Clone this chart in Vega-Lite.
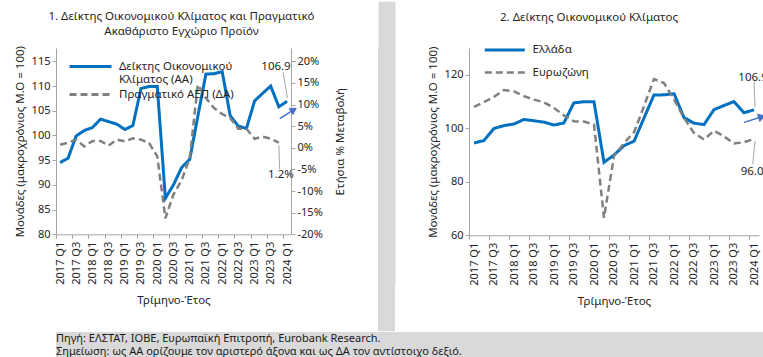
{
  "$schema": "https://vega.github.io/schema/vega-lite/v6.json",
  "padding": 0,
  "background": "white",
  "config": {
    "font": "Noto Sans",
    "view": {"stroke": null},
    "concat": {"spacing": 0},
    "axis": {"labelFontSize": 11, "labelColor": "#262626", "titleFontSize": 11.5, "titleFontWeight": "normal", "titleColor": "#262626", "domainColor": "#a6a6a6", "tickColor": "#a6a6a6", "grid": false, "tickSize": 4, "labelOverlap": false},
    "legend": {"labelFontSize": 11.5, "labelColor": "#262626"},
    "title": {"fontWeight": "normal", "color": "#262626"}
  },
  "datasets": {
    "esi": [
      {"quarter": "2017/01/01", "series": "Ελλάδα", "value": 94.5},
      {"quarter": "2017/04/01", "series": "Ελλάδα", "value": 95.4},
      {"quarter": "2017/07/01", "series": "Ελλάδα", "value": 99.9},
      {"quarter": "2017/10/01", "series": "Ελλάδα", "value": 101.0},
      {"quarter": "2018/01/01", "series": "Ελλάδα", "value": 101.6},
      {"quarter": "2018/04/01", "series": "Ελλάδα", "value": 103.3},
      {"quarter": "2018/07/01", "series": "Ελλάδα", "value": 102.8},
      {"quarter": "2018/10/01", "series": "Ελλάδα", "value": 102.3},
      {"quarter": "2019/01/01", "series": "Ελλάδα", "value": 101.2},
      {"quarter": "2019/04/01", "series": "Ελλάδα", "value": 102.0},
      {"quarter": "2019/07/01", "series": "Ελλάδα", "value": 109.5},
      {"quarter": "2019/10/01", "series": "Ελλάδα", "value": 109.9},
      {"quarter": "2020/01/01", "series": "Ελλάδα", "value": 109.9},
      {"quarter": "2020/04/01", "series": "Ελλάδα", "value": 87.3},
      {"quarter": "2020/07/01", "series": "Ελλάδα", "value": 90.0},
      {"quarter": "2020/10/01", "series": "Ελλάδα", "value": 93.5},
      {"quarter": "2021/01/01", "series": "Ελλάδα", "value": 95.2},
      {"quarter": "2021/04/01", "series": "Ελλάδα", "value": 103.8},
      {"quarter": "2021/07/01", "series": "Ελλάδα", "value": 112.4},
      {"quarter": "2021/10/01", "series": "Ελλάδα", "value": 112.5},
      {"quarter": "2022/01/01", "series": "Ελλάδα", "value": 112.9},
      {"quarter": "2022/04/01", "series": "Ελλάδα", "value": 104.0},
      {"quarter": "2022/07/01", "series": "Ελλάδα", "value": 101.9},
      {"quarter": "2022/10/01", "series": "Ελλάδα", "value": 101.4},
      {"quarter": "2023/01/01", "series": "Ελλάδα", "value": 107.0},
      {"quarter": "2023/04/01", "series": "Ελλάδα", "value": 108.5},
      {"quarter": "2023/07/01", "series": "Ελλάδα", "value": 110.0},
      {"quarter": "2023/10/01", "series": "Ελλάδα", "value": 105.8},
      {"quarter": "2024/01/01", "series": "Ελλάδα", "value": 106.9},
      {"quarter": "2017/01/01", "series": "Ευρωζώνη", "value": 108.0},
      {"quarter": "2017/04/01", "series": "Ευρωζώνη", "value": 109.8},
      {"quarter": "2017/07/01", "series": "Ευρωζώνη", "value": 111.7},
      {"quarter": "2017/10/01", "series": "Ευρωζώνη", "value": 114.3},
      {"quarter": "2018/01/01", "series": "Ευρωζώνη", "value": 113.8},
      {"quarter": "2018/04/01", "series": "Ευρωζώνη", "value": 112.0},
      {"quarter": "2018/07/01", "series": "Ευρωζώνη", "value": 110.7},
      {"quarter": "2018/10/01", "series": "Ευρωζώνη", "value": 109.7},
      {"quarter": "2019/01/01", "series": "Ευρωζώνη", "value": 107.6},
      {"quarter": "2019/04/01", "series": "Ευρωζώνη", "value": 104.8},
      {"quarter": "2019/07/01", "series": "Ευρωζώνη", "value": 102.6},
      {"quarter": "2019/10/01", "series": "Ευρωζώνη", "value": 102.5},
      {"quarter": "2020/01/01", "series": "Ευρωζώνη", "value": 101.4},
      {"quarter": "2020/04/01", "series": "Ευρωζώνη", "value": 66.5},
      {"quarter": "2020/07/01", "series": "Ευρωζώνη", "value": 89.5},
      {"quarter": "2020/10/01", "series": "Ευρωζώνη", "value": 94.5},
      {"quarter": "2021/01/01", "series": "Ευρωζώνη", "value": 98.6},
      {"quarter": "2021/04/01", "series": "Ευρωζώνη", "value": 108.2},
      {"quarter": "2021/07/01", "series": "Ευρωζώνη", "value": 118.4},
      {"quarter": "2021/10/01", "series": "Ευρωζώνη", "value": 116.9},
      {"quarter": "2022/01/01", "series": "Ευρωζώνη", "value": 110.7},
      {"quarter": "2022/04/01", "series": "Ευρωζώνη", "value": 103.9},
      {"quarter": "2022/07/01", "series": "Ευρωζώνη", "value": 98.3},
      {"quarter": "2022/10/01", "series": "Ευρωζώνη", "value": 95.8},
      {"quarter": "2023/01/01", "series": "Ευρωζώνη", "value": 99.1},
      {"quarter": "2023/04/01", "series": "Ευρωζώνη", "value": 97.0},
      {"quarter": "2023/07/01", "series": "Ευρωζώνη", "value": 94.3},
      {"quarter": "2023/10/01", "series": "Ευρωζώνη", "value": 94.8},
      {"quarter": "2024/01/01", "series": "Ευρωζώνη", "value": 96.0}
    ],
    "gdp": [
      {"quarter": "2017/01/01", "series": "Πραγματικό ΑΕΠ (ΔΑ)", "value": 0.7},
      {"quarter": "2017/04/01", "series": "Πραγματικό ΑΕΠ (ΔΑ)", "value": 1.2},
      {"quarter": "2017/07/01", "series": "Πραγματικό ΑΕΠ (ΔΑ)", "value": 1.9},
      {"quarter": "2017/10/01", "series": "Πραγματικό ΑΕΠ (ΔΑ)", "value": 0.3},
      {"quarter": "2018/01/01", "series": "Πραγματικό ΑΕΠ (ΔΑ)", "value": 1.6},
      {"quarter": "2018/04/01", "series": "Πραγματικό ΑΕΠ (ΔΑ)", "value": 1.6},
      {"quarter": "2018/07/01", "series": "Πραγματικό ΑΕΠ (ΔΑ)", "value": 0.5},
      {"quarter": "2018/10/01", "series": "Πραγματικό ΑΕΠ (ΔΑ)", "value": 1.9},
      {"quarter": "2019/01/01", "series": "Πραγματικό ΑΕΠ (ΔΑ)", "value": 1.5},
      {"quarter": "2019/04/01", "series": "Πραγματικό ΑΕΠ (ΔΑ)", "value": 2.2},
      {"quarter": "2019/07/01", "series": "Πραγματικό ΑΕΠ (ΔΑ)", "value": 1.9},
      {"quarter": "2019/10/01", "series": "Πραγματικό ΑΕΠ (ΔΑ)", "value": 1.1},
      {"quarter": "2020/01/01", "series": "Πραγματικό ΑΕΠ (ΔΑ)", "value": -2.0},
      {"quarter": "2020/04/01", "series": "Πραγματικό ΑΕΠ (ΔΑ)", "value": -16.3},
      {"quarter": "2020/07/01", "series": "Πραγματικό ΑΕΠ (ΔΑ)", "value": -10.8},
      {"quarter": "2020/10/01", "series": "Πραγματικό ΑΕΠ (ΔΑ)", "value": -7.5},
      {"quarter": "2021/01/01", "series": "Πραγματικό ΑΕΠ (ΔΑ)", "value": -2.3},
      {"quarter": "2021/04/01", "series": "Πραγματικό ΑΕΠ (ΔΑ)", "value": 14.6},
      {"quarter": "2021/07/01", "series": "Πραγματικό ΑΕΠ (ΔΑ)", "value": 11.5},
      {"quarter": "2021/10/01", "series": "Πραγματικό ΑΕΠ (ΔΑ)", "value": 9.2},
      {"quarter": "2022/01/01", "series": "Πραγματικό ΑΕΠ (ΔΑ)", "value": 7.8},
      {"quarter": "2022/04/01", "series": "Πραγματικό ΑΕΠ (ΔΑ)", "value": 6.9},
      {"quarter": "2022/07/01", "series": "Πραγματικό ΑΕΠ (ΔΑ)", "value": 4.4},
      {"quarter": "2022/10/01", "series": "Πραγματικό ΑΕΠ (ΔΑ)", "value": 4.4},
      {"quarter": "2023/01/01", "series": "Πραγματικό ΑΕΠ (ΔΑ)", "value": 2.1},
      {"quarter": "2023/04/01", "series": "Πραγματικό ΑΕΠ (ΔΑ)", "value": 2.6},
      {"quarter": "2023/07/01", "series": "Πραγματικό ΑΕΠ (ΔΑ)", "value": 2.1},
      {"quarter": "2023/10/01", "series": "Πραγματικό ΑΕΠ (ΔΑ)", "value": 1.2}
    ],
    "notes": [
      {"line": 1, "text": "Πηγή: ΕΛΣΤΑΤ, ΙΟΒΕ, Ευρωπαϊκή Επιτροπή, Eurobank Research."},
      {"line": 2, "text": "Σημείωση: ως ΑΑ ορίζουμε τον αριστερό άξονα και ως ΔΑ τον αντίστοιχο δεξιό."}
    ]
  },
  "vconcat": [
    {
      "concat": [
        {
          "width": 235,
          "height": 186.3,
          "title": {"text": " ", "fontSize": 2, "subtitle": ["1. Δείκτης Οικονομικού Κλίματος και Πραγματικό", "Ακαθάριστο Εγχώριο Προϊόν"], "subtitleFontSize": 11.5, "subtitleColor": "#262626", "subtitleLineHeight": 15, "subtitlePadding": 9, "frame": "group", "anchor": "middle", "dx": 8, "offset": 7.7},
          "layer": [
            {
              "layer": [
                {
                  "data": {"name": "esi"},
                  "transform": [{"filter": "datum.series == 'Ελλάδα'"}],
                  "mark": {"type": "line", "strokeWidth": 3},
                  "encoding": {
                    "x": {"field": "quarter", "type": "temporal",
                      "scale": {"domain": [{"year": 2016, "month": 11, "date": 16}, {"year": 2024, "month": 2, "date": 15}], "nice": false},
                      "axis": {"values": [{"year": 2017, "month": 1, "date": 1}, {"year": 2017, "month": 7, "date": 1}, {"year": 2018, "month": 1, "date": 1}, {"year": 2018, "month": 7, "date": 1}, {"year": 2019, "month": 1, "date": 1}, {"year": 2019, "month": 7, "date": 1}, {"year": 2020, "month": 1, "date": 1}, {"year": 2020, "month": 7, "date": 1}, {"year": 2021, "month": 1, "date": 1}, {"year": 2021, "month": 7, "date": 1}, {"year": 2022, "month": 1, "date": 1}, {"year": 2022, "month": 7, "date": 1}, {"year": 2023, "month": 1, "date": 1}, {"year": 2023, "month": 7, "date": 1}, {"year": 2024, "month": 1, "date": 1}],
                        "tickCount": {"interval": "month", "step": 6}, "format": "%Y Q%q", "labelAngle": -90, "labelOverlap": false, "tickOffset": -4.05, "labelOffset": 4.05, "labelPadding": 3, "title": "Τρίμηνο-Έτος", "titlePadding": 10}},
                    "y": {"field": "value", "type": "quantitative", "scale": {"domain": [80, 117.69], "nice": false, "zero": false},
                      "axis": {"values": [80, 85, 90, 95, 100, 105, 110, 115], "tickCount": 8, "labelOverlap": false, "title": ["", "Μονάδες (μακροχρόνιος Μ.Ο = 100)"], "titleLineHeight": 14, "titlePadding": 6}},
                    "color": {"field": "series", "type": "nominal", "scale": {"domain": ["Ελλάδα", "Πραγματικό ΑΕΠ (ΔΑ)"], "range": ["#0070C0", "#808080"]},
                      "legend": {"title": null, "orient": "none", "legendX": 26, "legendY": 10, "symbolType": "M-3,0H3", "symbolSize": 196, "symbolStrokeWidth": 3, "labelOffset": 20, "rowPadding": 0, "labelLimit": 300,
                        "labelExpr": "datum.label == 'Ελλάδα' ? ['Δείκτης Οικονομικού', 'Κλίματος (ΑΑ)'] : datum.label"}},
                    "strokeDash": {"field": "series", "type": "nominal", "scale": {"domain": ["Ελλάδα", "Πραγματικό ΑΕΠ (ΔΑ)"], "range": [[1, 0], [7, 4]]},
                      "legend": {"title": null, "orient": "none", "legendX": 26, "legendY": 10, "symbolType": "M-3,0H3", "symbolSize": 196, "symbolStrokeWidth": 3, "labelOffset": 20, "rowPadding": 0, "labelLimit": 300,
                        "labelExpr": "datum.label == 'Ελλάδα' ? ['Δείκτης Οικονομικού', 'Κλίματος (ΑΑ)'] : datum.label"}}
                  }
                },
                {
                  "data": {"values": [{}]},
                  "mark": {"type": "text", "text": "106.9", "fontSize": 11.5, "color": "#262626", "dx": -11},
                  "encoding": {
                    "x": {"datum": {"year": 2024, "month": 1, "date": 1}, "type": "temporal",
                      "axis": {"values": [{"year": 2017, "month": 1, "date": 1}, {"year": 2017, "month": 7, "date": 1}, {"year": 2018, "month": 1, "date": 1}, {"year": 2018, "month": 7, "date": 1}, {"year": 2019, "month": 1, "date": 1}, {"year": 2019, "month": 7, "date": 1}, {"year": 2020, "month": 1, "date": 1}, {"year": 2020, "month": 7, "date": 1}, {"year": 2021, "month": 1, "date": 1}, {"year": 2021, "month": 7, "date": 1}, {"year": 2022, "month": 1, "date": 1}, {"year": 2022, "month": 7, "date": 1}, {"year": 2023, "month": 1, "date": 1}, {"year": 2023, "month": 7, "date": 1}, {"year": 2024, "month": 1, "date": 1}],
                        "tickCount": {"interval": "month", "step": 6}, "format": "%Y Q%q", "labelAngle": -90, "labelOverlap": false, "tickOffset": -4.05, "labelOffset": 4.05, "labelPadding": 3, "title": "Τρίμηνο-Έτος", "titlePadding": 10}},
                    "y": {"datum": 113.8, "type": "quantitative",
                      "axis": {"values": [80, 85, 90, 95, 100, 105, 110, 115], "tickCount": 8, "labelOverlap": false, "title": ["", "Μονάδες (μακροχρόνιος Μ.Ο = 100)"], "titleLineHeight": 14, "titlePadding": 6}}
                  }
                },
                {
                  "data": {"values": [{}]},
                  "mark": {"type": "rule", "color": "#a6a6a6", "strokeWidth": 1},
                  "encoding": {
                    "x": {"datum": {"year": 2023, "month": 11, "date": 17}, "type": "temporal",
                      "axis": {"values": [{"year": 2017, "month": 1, "date": 1}, {"year": 2017, "month": 7, "date": 1}, {"year": 2018, "month": 1, "date": 1}, {"year": 2018, "month": 7, "date": 1}, {"year": 2019, "month": 1, "date": 1}, {"year": 2019, "month": 7, "date": 1}, {"year": 2020, "month": 1, "date": 1}, {"year": 2020, "month": 7, "date": 1}, {"year": 2021, "month": 1, "date": 1}, {"year": 2021, "month": 7, "date": 1}, {"year": 2022, "month": 1, "date": 1}, {"year": 2022, "month": 7, "date": 1}, {"year": 2023, "month": 1, "date": 1}, {"year": 2023, "month": 7, "date": 1}, {"year": 2024, "month": 1, "date": 1}],
                        "tickCount": {"interval": "month", "step": 6}, "format": "%Y Q%q", "labelAngle": -90, "labelOverlap": false, "tickOffset": -4.05, "labelOffset": 4.05, "labelPadding": 3, "title": "Τρίμηνο-Έτος", "titlePadding": 10}},
                    "x2": {"datum": {"year": 2024, "month": 1, "date": 6}},
                    "y": {"datum": 112.8, "type": "quantitative",
                      "axis": {"values": [80, 85, 90, 95, 100, 105, 110, 115], "tickCount": 8, "labelOverlap": false, "title": ["", "Μονάδες (μακροχρόνιος Μ.Ο = 100)"], "titleLineHeight": 14, "titlePadding": 6}},
                    "y2": {"datum": 107.6}
                  }
                },
                {
                  "data": {"values": [{}]},
                  "mark": {"type": "rule", "color": "#4472C4", "strokeWidth": 1.5},
                  "encoding": {
                    "x": {"datum": {"year": 2023, "month": 10, "date": 11}, "type": "temporal",
                      "axis": {"values": [{"year": 2017, "month": 1, "date": 1}, {"year": 2017, "month": 7, "date": 1}, {"year": 2018, "month": 1, "date": 1}, {"year": 2018, "month": 7, "date": 1}, {"year": 2019, "month": 1, "date": 1}, {"year": 2019, "month": 7, "date": 1}, {"year": 2020, "month": 1, "date": 1}, {"year": 2020, "month": 7, "date": 1}, {"year": 2021, "month": 1, "date": 1}, {"year": 2021, "month": 7, "date": 1}, {"year": 2022, "month": 1, "date": 1}, {"year": 2022, "month": 7, "date": 1}, {"year": 2023, "month": 1, "date": 1}, {"year": 2023, "month": 7, "date": 1}, {"year": 2024, "month": 1, "date": 1}],
                        "tickCount": {"interval": "month", "step": 6}, "format": "%Y Q%q", "labelAngle": -90, "labelOverlap": false, "tickOffset": -4.05, "labelOffset": 4.05, "labelPadding": 3, "title": "Τρίμηνο-Έτος", "titlePadding": 10}},
                    "x2": {"datum": {"year": 2024, "month": 3, "date": 18}},
                    "y": {"datum": 103.4, "type": "quantitative",
                      "axis": {"values": [80, 85, 90, 95, 100, 105, 110, 115], "tickCount": 8, "labelOverlap": false, "title": ["", "Μονάδες (μακροχρόνιος Μ.Ο = 100)"], "titleLineHeight": 14, "titlePadding": 6}},
                    "y2": {"datum": 105.2}
                  }
                },
                {
                  "data": {"values": [{}]},
                  "mark": {"type": "point", "shape": "triangle-right", "filled": true, "size": 70, "angle": -33, "color": "#4472C4", "opacity": 1},
                  "encoding": {
                    "x": {"datum": {"year": 2024, "month": 3, "date": 18}, "type": "temporal",
                      "axis": {"values": [{"year": 2017, "month": 1, "date": 1}, {"year": 2017, "month": 7, "date": 1}, {"year": 2018, "month": 1, "date": 1}, {"year": 2018, "month": 7, "date": 1}, {"year": 2019, "month": 1, "date": 1}, {"year": 2019, "month": 7, "date": 1}, {"year": 2020, "month": 1, "date": 1}, {"year": 2020, "month": 7, "date": 1}, {"year": 2021, "month": 1, "date": 1}, {"year": 2021, "month": 7, "date": 1}, {"year": 2022, "month": 1, "date": 1}, {"year": 2022, "month": 7, "date": 1}, {"year": 2023, "month": 1, "date": 1}, {"year": 2023, "month": 7, "date": 1}, {"year": 2024, "month": 1, "date": 1}],
                        "tickCount": {"interval": "month", "step": 6}, "format": "%Y Q%q", "labelAngle": -90, "labelOverlap": false, "tickOffset": -4.05, "labelOffset": 4.05, "labelPadding": 3, "title": "Τρίμηνο-Έτος", "titlePadding": 10}},
                    "y": {"datum": 105.2, "type": "quantitative",
                      "axis": {"values": [80, 85, 90, 95, 100, 105, 110, 115], "tickCount": 8, "labelOverlap": false, "title": ["", "Μονάδες (μακροχρόνιος Μ.Ο = 100)"], "titleLineHeight": 14, "titlePadding": 6}}
                  }
                }
              ]
            },
            {
              "layer": [
                {
                  "data": {"name": "gdp"},
                  "mark": {"type": "line", "strokeWidth": 2.5},
                  "encoding": {
                    "x": {"field": "quarter", "type": "temporal",
                      "axis": {"values": [{"year": 2017, "month": 1, "date": 1}, {"year": 2017, "month": 7, "date": 1}, {"year": 2018, "month": 1, "date": 1}, {"year": 2018, "month": 7, "date": 1}, {"year": 2019, "month": 1, "date": 1}, {"year": 2019, "month": 7, "date": 1}, {"year": 2020, "month": 1, "date": 1}, {"year": 2020, "month": 7, "date": 1}, {"year": 2021, "month": 1, "date": 1}, {"year": 2021, "month": 7, "date": 1}, {"year": 2022, "month": 1, "date": 1}, {"year": 2022, "month": 7, "date": 1}, {"year": 2023, "month": 1, "date": 1}, {"year": 2023, "month": 7, "date": 1}, {"year": 2024, "month": 1, "date": 1}],
                        "tickCount": {"interval": "month", "step": 6}, "format": "%Y Q%q", "labelAngle": -90, "labelOverlap": false, "tickOffset": -4.05, "labelOffset": 4.05, "labelPadding": 3, "title": "Τρίμηνο-Έτος", "titlePadding": 10}},
                    "y": {"field": "value", "type": "quantitative", "scale": {"domain": [-20, 23.08], "nice": false},
                      "axis": {"orient": "right", "values": [-20, -15, -10, -5, 0, 5, 10, 15, 20], "tickCount": 9, "labelOverlap": false, "labelExpr": "datum.value + '%'", "title": "Ετήσια % Μεταβολή", "titleAngle": -90, "titleBaseline": "top", "titlePadding": 12}},
                    "color": {"field": "series", "type": "nominal",
                      "legend": {"title": null, "orient": "none", "legendX": 26, "legendY": 10, "symbolType": "M-3,0H3", "symbolSize": 196, "symbolStrokeWidth": 3, "labelOffset": 20, "rowPadding": 0, "labelLimit": 300,
                        "labelExpr": "datum.label == 'Ελλάδα' ? ['Δείκτης Οικονομικού', 'Κλίματος (ΑΑ)'] : datum.label"}},
                    "strokeDash": {"field": "series", "type": "nominal",
                      "legend": {"title": null, "orient": "none", "legendX": 26, "legendY": 10, "symbolType": "M-3,0H3", "symbolSize": 196, "symbolStrokeWidth": 3, "labelOffset": 20, "rowPadding": 0, "labelLimit": 300,
                        "labelExpr": "datum.label == 'Ελλάδα' ? ['Δείκτης Οικονομικού', 'Κλίματος (ΑΑ)'] : datum.label"}}
                  }
                },
                {
                  "data": {"values": [{}]},
                  "mark": {"type": "text", "text": "1.2%", "fontSize": 11.5, "color": "#262626", "dx": -6},
                  "encoding": {
                    "x": {"datum": {"year": 2024, "month": 1, "date": 1}, "type": "temporal",
                      "axis": {"values": [{"year": 2017, "month": 1, "date": 1}, {"year": 2017, "month": 7, "date": 1}, {"year": 2018, "month": 1, "date": 1}, {"year": 2018, "month": 7, "date": 1}, {"year": 2019, "month": 1, "date": 1}, {"year": 2019, "month": 7, "date": 1}, {"year": 2020, "month": 1, "date": 1}, {"year": 2020, "month": 7, "date": 1}, {"year": 2021, "month": 1, "date": 1}, {"year": 2021, "month": 7, "date": 1}, {"year": 2022, "month": 1, "date": 1}, {"year": 2022, "month": 7, "date": 1}, {"year": 2023, "month": 1, "date": 1}, {"year": 2023, "month": 7, "date": 1}, {"year": 2024, "month": 1, "date": 1}],
                        "tickCount": {"interval": "month", "step": 6}, "format": "%Y Q%q", "labelAngle": -90, "labelOverlap": false, "tickOffset": -4.05, "labelOffset": 4.05, "labelPadding": 3, "title": "Τρίμηνο-Έτος", "titlePadding": 10}},
                    "y": {"datum": -6.4, "type": "quantitative",
                      "axis": {"orient": "right", "values": [-20, -15, -10, -5, 0, 5, 10, 15, 20], "tickCount": 9, "labelOverlap": false, "labelExpr": "datum.value + '%'", "title": "Ετήσια % Μεταβολή", "titleAngle": -90, "titleBaseline": "top", "titlePadding": 12}}
                  }
                },
                {
                  "data": {"values": [{}]},
                  "mark": {"type": "rule", "color": "#a6a6a6", "strokeWidth": 1},
                  "encoding": {
                    "x": {"datum": {"year": 2023, "month": 10, "date": 1}, "type": "temporal",
                      "axis": {"values": [{"year": 2017, "month": 1, "date": 1}, {"year": 2017, "month": 7, "date": 1}, {"year": 2018, "month": 1, "date": 1}, {"year": 2018, "month": 7, "date": 1}, {"year": 2019, "month": 1, "date": 1}, {"year": 2019, "month": 7, "date": 1}, {"year": 2020, "month": 1, "date": 1}, {"year": 2020, "month": 7, "date": 1}, {"year": 2021, "month": 1, "date": 1}, {"year": 2021, "month": 7, "date": 1}, {"year": 2022, "month": 1, "date": 1}, {"year": 2022, "month": 7, "date": 1}, {"year": 2023, "month": 1, "date": 1}, {"year": 2023, "month": 7, "date": 1}, {"year": 2024, "month": 1, "date": 1}],
                        "tickCount": {"interval": "month", "step": 6}, "format": "%Y Q%q", "labelAngle": -90, "labelOverlap": false, "tickOffset": -4.05, "labelOffset": 4.05, "labelPadding": 3, "title": "Τρίμηνο-Έτος", "titlePadding": 10}},
                    "x2": {"datum": {"year": 2023, "month": 10, "date": 10}},
                    "y": {"datum": 0.6, "type": "quantitative",
                      "axis": {"orient": "right", "values": [-20, -15, -10, -5, 0, 5, 10, 15, 20], "tickCount": 9, "labelOverlap": false, "labelExpr": "datum.value + '%'", "title": "Ετήσια % Μεταβολή", "titleAngle": -90, "titleBaseline": "top", "titlePadding": 12}},
                    "y2": {"datum": -4.9}
                  }
                }
              ]
            }
          ],
          "resolve": {"scale": {"y": "independent"}}
        },
        {
          "width": 17,
          "height": 283.3,
          "view": {"fill": "#d9d9d9", "stroke": null},
          "data": {"values": [{}]},
          "mark": {"type": "text", "text": ""},
          "encoding": {
            "y": {"datum": 0, "type": "quantitative", "scale": {"domain": [0, 1], "range": [236.6, -46.7]},
              "axis": {"orient": "left", "offset": -8.5, "domainWidth": 17, "domainColor": "#d9d9d9", "domainCap": "butt", "ticks": false, "labels": false, "title": null}}
          }
        },
        {
          "width": 290,
          "height": 187.3,
          "title": {"text": " ", "fontSize": 2, "subtitle": "2. Δείκτης Οικονομικού Κλίματος", "subtitleFontSize": 11.5, "subtitleColor": "#262626", "subtitleLineHeight": 15, "subtitlePadding": 8, "frame": "group", "anchor": "middle", "dx": -25, "offset": 18.2},
          "layer": [
            {
              "data": {"name": "esi"},
              "mark": {"type": "line"},
              "encoding": {
                "x": {"field": "quarter", "type": "temporal",
                  "scale": {"domain": [{"year": 2016, "month": 11, "date": 16}, {"year": 2024, "month": 2, "date": 15}], "nice": false},
                  "axis": {"values": [{"year": 2017, "month": 1, "date": 1}, {"year": 2017, "month": 7, "date": 1}, {"year": 2018, "month": 1, "date": 1}, {"year": 2018, "month": 7, "date": 1}, {"year": 2019, "month": 1, "date": 1}, {"year": 2019, "month": 7, "date": 1}, {"year": 2020, "month": 1, "date": 1}, {"year": 2020, "month": 7, "date": 1}, {"year": 2021, "month": 1, "date": 1}, {"year": 2021, "month": 7, "date": 1}, {"year": 2022, "month": 1, "date": 1}, {"year": 2022, "month": 7, "date": 1}, {"year": 2023, "month": 1, "date": 1}, {"year": 2023, "month": 7, "date": 1}, {"year": 2024, "month": 1, "date": 1}],
                    "tickCount": {"interval": "month", "step": 6}, "format": "%Y Q%q", "labelAngle": -90, "labelOverlap": false, "tickOffset": -5, "labelOffset": 5, "labelPadding": 3, "title": "Τρίμηνο-Έτος", "titlePadding": 10}},
                "y": {"field": "value", "type": "quantitative", "scale": {"domain": [60, 130], "nice": false, "zero": false},
                  "axis": {"values": [60, 70, 80, 90, 100, 110, 120, 130], "tickCount": 7, "labelOverlap": false, "title": "Μονάδες (μακροχρόνιος Μ.Ο = 100)", "titlePadding": 6}},
                "color": {"field": "series", "type": "nominal", "scale": {"domain": ["Ελλάδα", "Ευρωζώνη"], "range": ["#0070C0", "#808080"]},
                  "legend": {"title": null, "orient": "none", "legendX": 27.3, "legendY": -6.5, "symbolType": "M-3,0H3", "symbolSize": 177.8, "symbolStrokeWidth": 3, "labelOffset": 19.3, "rowPadding": 8}},
                "strokeDash": {"field": "series", "type": "nominal", "scale": {"domain": ["Ελλάδα", "Ευρωζώνη"], "range": [[1, 0], [7, 4]]},
                  "legend": {"title": null, "orient": "none", "legendX": 27.3, "legendY": -6.5, "symbolType": "M-3,0H3", "symbolSize": 177.8, "symbolStrokeWidth": 3, "labelOffset": 19.3, "rowPadding": 8}},
                "strokeWidth": {"field": "series", "type": "nominal", "scale": {"domain": ["Ελλάδα", "Ευρωζώνη"], "range": [3, 2.5]}, "legend": null}
              }
            },
            {
              "data": {"values": [{}]},
              "mark": {"type": "text", "text": "106.9", "fontSize": 11.5, "color": "#262626", "dx": -1},
              "encoding": {
                "x": {"datum": {"year": 2024, "month": 1, "date": 1}, "type": "temporal",
                  "axis": {"values": [{"year": 2017, "month": 1, "date": 1}, {"year": 2017, "month": 7, "date": 1}, {"year": 2018, "month": 1, "date": 1}, {"year": 2018, "month": 7, "date": 1}, {"year": 2019, "month": 1, "date": 1}, {"year": 2019, "month": 7, "date": 1}, {"year": 2020, "month": 1, "date": 1}, {"year": 2020, "month": 7, "date": 1}, {"year": 2021, "month": 1, "date": 1}, {"year": 2021, "month": 7, "date": 1}, {"year": 2022, "month": 1, "date": 1}, {"year": 2022, "month": 7, "date": 1}, {"year": 2023, "month": 1, "date": 1}, {"year": 2023, "month": 7, "date": 1}, {"year": 2024, "month": 1, "date": 1}],
                    "tickCount": {"interval": "month", "step": 6}, "format": "%Y Q%q", "labelAngle": -90, "labelOverlap": false, "tickOffset": -5, "labelOffset": 5, "labelPadding": 3, "title": "Τρίμηνο-Έτος", "titlePadding": 10}},
                "y": {"datum": 118.7, "type": "quantitative",
                  "axis": {"values": [60, 70, 80, 90, 100, 110, 120, 130], "tickCount": 7, "labelOverlap": false, "title": "Μονάδες (μακροχρόνιος Μ.Ο = 100)", "titlePadding": 6}}
              }
            },
            {
              "data": {"values": [{}]},
              "mark": {"type": "rule", "color": "#a6a6a6", "strokeWidth": 1},
              "encoding": {
                "x": {"datum": {"year": 2024, "month": 1, "date": 1}, "type": "temporal",
                  "axis": {"values": [{"year": 2017, "month": 1, "date": 1}, {"year": 2017, "month": 7, "date": 1}, {"year": 2018, "month": 1, "date": 1}, {"year": 2018, "month": 7, "date": 1}, {"year": 2019, "month": 1, "date": 1}, {"year": 2019, "month": 7, "date": 1}, {"year": 2020, "month": 1, "date": 1}, {"year": 2020, "month": 7, "date": 1}, {"year": 2021, "month": 1, "date": 1}, {"year": 2021, "month": 7, "date": 1}, {"year": 2022, "month": 1, "date": 1}, {"year": 2022, "month": 7, "date": 1}, {"year": 2023, "month": 1, "date": 1}, {"year": 2023, "month": 7, "date": 1}, {"year": 2024, "month": 1, "date": 1}],
                    "tickCount": {"interval": "month", "step": 6}, "format": "%Y Q%q", "labelAngle": -90, "labelOverlap": false, "tickOffset": -5, "labelOffset": 5, "labelPadding": 3, "title": "Τρίμηνο-Έτος", "titlePadding": 10}},
                "x2": {"datum": {"year": 2024, "month": 1, "date": 10}},
                "y": {"datum": 117.4, "type": "quantitative",
                  "axis": {"values": [60, 70, 80, 90, 100, 110, 120, 130], "tickCount": 7, "labelOverlap": false, "title": "Μονάδες (μακροχρόνιος Μ.Ο = 100)", "titlePadding": 6}},
                "y2": {"datum": 107.9}
              }
            },
            {
              "data": {"values": [{}]},
              "mark": {"type": "text", "text": "96.0", "fontSize": 11.5, "color": "#262626", "dx": -2},
              "encoding": {
                "x": {"datum": {"year": 2024, "month": 1, "date": 1}, "type": "temporal",
                  "axis": {"values": [{"year": 2017, "month": 1, "date": 1}, {"year": 2017, "month": 7, "date": 1}, {"year": 2018, "month": 1, "date": 1}, {"year": 2018, "month": 7, "date": 1}, {"year": 2019, "month": 1, "date": 1}, {"year": 2019, "month": 7, "date": 1}, {"year": 2020, "month": 1, "date": 1}, {"year": 2020, "month": 7, "date": 1}, {"year": 2021, "month": 1, "date": 1}, {"year": 2021, "month": 7, "date": 1}, {"year": 2022, "month": 1, "date": 1}, {"year": 2022, "month": 7, "date": 1}, {"year": 2023, "month": 1, "date": 1}, {"year": 2023, "month": 7, "date": 1}, {"year": 2024, "month": 1, "date": 1}],
                    "tickCount": {"interval": "month", "step": 6}, "format": "%Y Q%q", "labelAngle": -90, "labelOverlap": false, "tickOffset": -5, "labelOffset": 5, "labelPadding": 3, "title": "Τρίμηνο-Έτος", "titlePadding": 10}},
                "y": {"datum": 83.5, "type": "quantitative",
                  "axis": {"values": [60, 70, 80, 90, 100, 110, 120, 130], "tickCount": 7, "labelOverlap": false, "title": "Μονάδες (μακροχρόνιος Μ.Ο = 100)", "titlePadding": 6}}
              }
            },
            {
              "data": {"values": [{}]},
              "mark": {"type": "rule", "color": "#a6a6a6", "strokeWidth": 1},
              "encoding": {
                "x": {"datum": {"year": 2024, "month": 1, "date": 10}, "type": "temporal",
                  "axis": {"values": [{"year": 2017, "month": 1, "date": 1}, {"year": 2017, "month": 7, "date": 1}, {"year": 2018, "month": 1, "date": 1}, {"year": 2018, "month": 7, "date": 1}, {"year": 2019, "month": 1, "date": 1}, {"year": 2019, "month": 7, "date": 1}, {"year": 2020, "month": 1, "date": 1}, {"year": 2020, "month": 7, "date": 1}, {"year": 2021, "month": 1, "date": 1}, {"year": 2021, "month": 7, "date": 1}, {"year": 2022, "month": 1, "date": 1}, {"year": 2022, "month": 7, "date": 1}, {"year": 2023, "month": 1, "date": 1}, {"year": 2023, "month": 7, "date": 1}, {"year": 2024, "month": 1, "date": 1}],
                    "tickCount": {"interval": "month", "step": 6}, "format": "%Y Q%q", "labelAngle": -90, "labelOverlap": false, "tickOffset": -5, "labelOffset": 5, "labelPadding": 3, "title": "Τρίμηνο-Έτος", "titlePadding": 10}},
                "x2": {"datum": {"year": 2023, "month": 12, "date": 20}},
                "y": {"datum": 95.3, "type": "quantitative",
                  "axis": {"values": [60, 70, 80, 90, 100, 110, 120, 130], "tickCount": 7, "labelOverlap": false, "title": "Μονάδες (μακροχρόνιος Μ.Ο = 100)", "titlePadding": 6}},
                "y2": {"datum": 86.6}
              }
            },
            {
              "data": {"values": [{}]},
              "mark": {"type": "rule", "color": "#4472C4", "strokeWidth": 1.5},
              "encoding": {
                "x": {"datum": {"year": 2023, "month": 10, "date": 1}, "type": "temporal",
                  "axis": {"values": [{"year": 2017, "month": 1, "date": 1}, {"year": 2017, "month": 7, "date": 1}, {"year": 2018, "month": 1, "date": 1}, {"year": 2018, "month": 7, "date": 1}, {"year": 2019, "month": 1, "date": 1}, {"year": 2019, "month": 7, "date": 1}, {"year": 2020, "month": 1, "date": 1}, {"year": 2020, "month": 7, "date": 1}, {"year": 2021, "month": 1, "date": 1}, {"year": 2021, "month": 7, "date": 1}, {"year": 2022, "month": 1, "date": 1}, {"year": 2022, "month": 7, "date": 1}, {"year": 2023, "month": 1, "date": 1}, {"year": 2023, "month": 7, "date": 1}, {"year": 2024, "month": 1, "date": 1}],
                    "tickCount": {"interval": "month", "step": 6}, "format": "%Y Q%q", "labelAngle": -90, "labelOverlap": false, "tickOffset": -5, "labelOffset": 5, "labelPadding": 3, "title": "Τρίμηνο-Έτος", "titlePadding": 10}},
                "x2": {"datum": {"year": 2024, "month": 3, "date": 13}},
                "y": {"datum": 102.2, "type": "quantitative",
                  "axis": {"values": [60, 70, 80, 90, 100, 110, 120, 130], "tickCount": 7, "labelOverlap": false, "title": "Μονάδες (μακροχρόνιος Μ.Ο = 100)", "titlePadding": 6}},
                "y2": {"datum": 104.3}
              }
            },
            {
              "data": {"values": [{}]},
              "mark": {"type": "point", "shape": "triangle-right", "filled": true, "size": 80, "angle": -17, "color": "#4472C4", "opacity": 1},
              "encoding": {
                "x": {"datum": {"year": 2024, "month": 3, "date": 13}, "type": "temporal",
                  "axis": {"values": [{"year": 2017, "month": 1, "date": 1}, {"year": 2017, "month": 7, "date": 1}, {"year": 2018, "month": 1, "date": 1}, {"year": 2018, "month": 7, "date": 1}, {"year": 2019, "month": 1, "date": 1}, {"year": 2019, "month": 7, "date": 1}, {"year": 2020, "month": 1, "date": 1}, {"year": 2020, "month": 7, "date": 1}, {"year": 2021, "month": 1, "date": 1}, {"year": 2021, "month": 7, "date": 1}, {"year": 2022, "month": 1, "date": 1}, {"year": 2022, "month": 7, "date": 1}, {"year": 2023, "month": 1, "date": 1}, {"year": 2023, "month": 7, "date": 1}, {"year": 2024, "month": 1, "date": 1}],
                    "tickCount": {"interval": "month", "step": 6}, "format": "%Y Q%q", "labelAngle": -90, "labelOverlap": false, "tickOffset": -5, "labelOffset": 5, "labelPadding": 3, "title": "Τρίμηνο-Έτος", "titlePadding": 10}},
                "y": {"datum": 104.3, "type": "quantitative",
                  "axis": {"values": [60, 70, 80, 90, 100, 110, 120, 130], "tickCount": 7, "labelOverlap": false, "title": "Μονάδες (μακροχρόνιος Μ.Ο = 100)", "titlePadding": 6}}
              }
            }
          ]
        }
      ],
      "columns": 3,
      "align": "none",
      "spacing": 32,
      "resolve": {"scale": {"color": "independent", "strokeDash": "independent", "strokeWidth": "independent"}, "legend": {"color": "independent", "strokeDash": "independent"}}
    },
    {
      "width": 763,
      "height": 27,
      "view": {"fill": "#d9d9d9", "stroke": null},
      "data": {"name": "notes"},
      "mark": {"type": "text", "align": "left", "baseline": "middle", "fontSize": 11, "color": "#1a1a1a"},
      "encoding": {
        "x": {"value": 0},
        "y": {"field": "line", "type": "ordinal", "axis": null},
        "text": {"field": "text", "type": "nominal"}
      }
    }
  ],
  "spacing": 0,
  "resolve": {"scale": {"color": "independent", "strokeDash": "independent"}, "legend": {"color": "independent", "strokeDash": "independent"}}
}
